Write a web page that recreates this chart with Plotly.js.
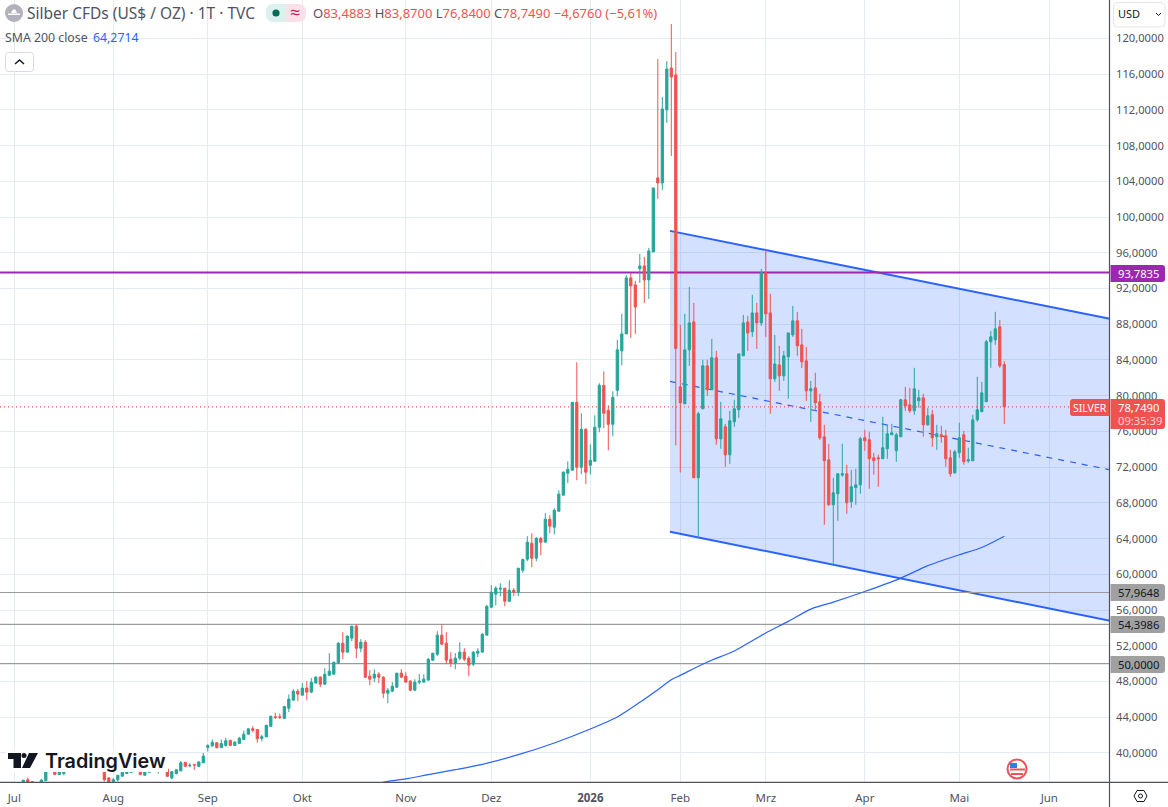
<!DOCTYPE html>
<html><head><meta charset="utf-8">
<script src="https://cdn.plot.ly/plotly-3.0.1.min.js"></script>
<style>html,body{margin:0;padding:0;background:#fff;overflow:hidden}#c{width:1168px;height:807px}</style>
</head><body><div id="c"></div>
<script>
const opens=[36.4,36.5,36.6,37.0,36.8,36.3,36.6,36.9,38.6,38.1,
37.58,37.69,38.5,38.8,38.5,38.9,38.6,38.8,38.1,38.7,
37.85,37.2,36.8,37.0,37.4,37.7,37.83,38.05,38.13,37.5,
37.83,38.05,37.93,37.98,38.2,37.2,37.68,38.0,38.95,38.55,
38.72,38.5,38.9,40.62,40.8,41.15,40.6,40.85,41.4,40.85,
41.05,41.5,42.1,42.72,42.63,41.63,41.8,42.98,44.05,44.05,
43.87,45.02,45.91,46.92,46.47,47.26,46.81,47.82,48.49,47.7,
48.71,48.82,50.05,52.29,51.29,52.85,54.2,51.73,52.4,48.6,
48.38,48.82,48.49,46.7,46.92,47.37,48.94,48.6,48.04,47.03,
47.93,47.93,48.15,50.39,51.06,53.19,52.29,50.5,50.05,50.61,
51.29,50.61,49.94,51.17,51.29,53.19,56.32,57.78,58.34,58.45,
56.99,58.22,58.0,60.46,61.69,63.48,61.81,64.04,63.6,66.17,
65.27,67.06,68.86,71.32,71.65,79.26,71.99,76.24,72.21,72.66,
76.46,81.16,78.37,76.8,80.6,85.02,86.92,93.19,92.4,94.2,
94.53,92.96,96.1,104.38,103.82,112.0,116.69,115.91,80.99,79.09,
85.13,88.26,70.81,78.53,83.34,80.66,84.24,75.17,76.52,73.38,
77.07,78.42,84.46,88.26,87.15,89.27,88.15,93.75,89.27,81.89,
83.45,82.22,84.35,86.81,88.38,85.69,83.9,80.54,80.88,79.31,
75.39,72.82,67.79,69.02,71.11,71.26,68.13,69.7,70.03,75.29,
75.06,73.05,73.05,72.94,74.06,75.62,73.83,75.4,79.54,78.98,
78.31,79.43,79.76,76.74,77.86,75.4,75.62,75.51,73.05,71.37,
73.61,75.62,72.68,72.71,77.3,78.2,79.32,86.03,86.25,87.71,
83.4883];
const highs=[36.7,36.7,37.0,37.23,36.85,36.6,37.1,38.5,38.7,38.2,
38.0,38.3,39,39.1,39,39.1,39,39,38.7,38.9,
38.0,37.3,37.2,37.55,37.9,38.0,38.25,38.2,38.2,38.0,
38.4,38.15,38.13,38.1,38.3,37.95,38.2,39.1,39.0,38.85,
38.72,39.05,40.0,40.95,41.5,41.2,41.5,41.7,41.5,41.35,
41.8,42.5,42.8,43.0,42.65,42.05,43.15,44.2,44.5,44.4,
45.3,46.55,47.15,47.15,47.82,48.04,48.38,48.6,48.6,49.5,
51.17,50.17,52.4,53.52,53.2,54.2,54.42,52.74,52.63,49.27,
49.38,49.05,48.6,47.26,47.93,48.94,49.38,49.05,48.15,48.26,
48.82,48.82,50.61,51.17,53.63,54.42,53.52,51.29,51.17,52.4,
51.73,50.84,51.4,51.73,53.41,56.54,58.78,58.67,59.0,58.45,
59.34,58.45,60.69,61.77,64.27,64.6,64.16,64.16,66.84,66.62,
67.4,69.4,71.54,72.66,79.26,83.74,78.03,76.35,74.56,77.81,
81.39,82.73,78.93,80.49,86.25,89.16,93.52,93.75,92.85,95.88,
95.54,96.55,103.26,117.7,113.44,117.47,121.61,118.48,87.93,89.16,
92.18,90.39,78.19,84.01,84.01,86.36,85.02,79.31,76.85,78.3,
79.54,84.68,89.05,88.94,91.29,90.39,94.2,96.43,91.4,86.81,
85.58,85.02,87.03,90.05,89.38,87.48,85.47,81.66,82.56,80.21,
76.74,74.61,70.81,71.26,74.62,72.27,71.71,71.82,75.4,76.18,
75.96,73.61,73.39,77.64,76.74,76.85,75.85,79.65,80.99,80.88,
83.12,80.66,80.21,78.65,78.42,76.74,76.63,76.18,73.94,73.94,
76.97,76.07,74.17,77.86,82.11,81.55,86.25,87.26,89.39,88.49,
83.87];
const lows=[36.2,36.2,36.5,36.6,36.4,36.1,36.5,36.85,38.05,37.55,
37.55,37.5,38.4,38.4,38.4,38.5,38.4,38.1,38.05,38.05,
36.8,36.7,36.7,36.8,37.4,37.65,37.8,38.0,37.6,37.5,
37.8,37.95,37.7,37.9,37.35,37.05,37.6,37.95,38.5,38.4,
38.1,38.45,38.9,40.15,40.7,40.5,40.6,40.7,40.85,40.85,
41.0,41.45,42.1,42.3,41.15,41.3,41.8,42.95,43.8,43.8,
43.85,44.57,45.9,45.8,46.47,45.91,46.7,47.82,47.37,47.7,
48.6,48.82,50.05,50.5,51.29,52.52,50.61,51.29,48.38,47.59,
47.93,47.82,46.14,45.58,46.81,47.26,48.38,47.93,46.92,46.92,
47.7,47.93,48.15,50.28,50.84,52.07,49.94,49.61,49.38,50.39,
50.28,48.6,49.72,50.73,51.29,53.19,56.21,56.54,57.55,56.43,
56.88,57.55,57.55,60.16,61.47,60.8,61.47,62.14,63.6,64.6,
64.49,67.06,68.86,70.2,71.65,70.53,71.2,70.09,71.2,72.66,
75.9,76.35,73.89,75.46,79.93,83.4,86.92,86.47,86.92,92.63,
90.39,90.84,96.1,102.03,103.04,110.53,106.84,74.43,71.4,79.09,
83.34,70.81,64.13,78.53,79.98,80.66,74.5,74.05,72.04,72.37,
76.52,77.52,84.46,85.02,86.59,85.24,87.82,86.59,77.97,81.55,
80.54,81.66,79.65,86.59,84.46,83.11,79.42,77.07,78.3,75.06,
65.55,67.67,61.0,66.0,70.92,66.78,67.45,67.79,69.02,73.83,
69.58,71.15,69.8,72.94,72.94,75.62,72.6,75.4,78.31,78.09,
77.86,78.65,75.4,76.63,74.28,73.94,74.73,72.04,70.92,71.26,
73.05,72.27,72.49,72.71,77.08,78.2,79.32,83.12,85.7,83.12,
76.84];
const closes=[36.6,36.4,36.95,36.7,36.5,36.5,36.95,38.47,38.1,37.6,
37.95,38.25,38.8,38.5,38.9,38.6,38.8,38.1,38.6,38.1,
37.01,36.75,37.0,37.5,37.83,37.95,38.2,38.15,37.6,37.95,
38.32,37.95,37.98,38.03,37.38,37.9,38.12,38.9,38.5,38.62,
38.65,39.0,39.65,40.85,41.2,40.6,41.05,41.37,40.85,41.2,
41.65,42.1,42.7,42.53,41.6,41.82,43.1,44.1,43.98,43.98,
45.2,46.03,46.92,46.59,47.26,46.81,47.93,48.49,47.7,48.82,
49.16,50.17,52.29,51.29,53.08,54.2,51.73,52.4,48.49,48.26,
48.82,48.49,46.7,47.03,47.48,48.94,48.49,47.93,47.03,47.93,
48.04,48.26,50.5,51.17,53.19,52.18,50.39,50.05,50.61,51.29,
50.5,49.83,51.29,51.4,53.3,56.43,58.0,58.45,58.45,56.99,
58.22,58.0,60.69,61.66,63.6,61.81,64.04,63.6,66.17,65.39,
67.18,68.97,71.43,71.76,79.26,71.99,76.24,71.43,72.77,76.46,
81.16,78.03,76.8,79.82,85.13,86.92,93.19,92.29,89.94,94.53,
92.96,96.21,103.26,103.82,112.1,116.58,115.68,85.28,79.2,85.13,
88.15,70.81,77.97,83.34,80.66,84.24,75.17,77.41,73.38,77.19,
78.53,84.68,88.15,87.03,89.27,88.15,93.75,89.16,81.89,83.56,
82.22,84.46,87.03,88.38,85.58,83.79,80.54,80.77,79.2,75.28,
72.71,67.79,69.13,71.26,71.26,68.01,69.81,70.03,75.18,74.95,
72.94,72.71,72.94,74.17,75.74,75.85,75.62,79.54,78.87,78.31,
80.77,79.76,76.74,77.75,75.29,75.74,75.4,72.94,71.26,73.72,
75.29,72.6,72.83,77.3,78.42,80.32,86.03,86.59,87.49,83.34,
78.749];

const smaBars=[81,83,87,92,98,104,112,120,128,134,139,143,146,148,154,160,167,172,177,182,189,197,203,210,215,220];
const smaValues=[36.6,36.83,37.09,37.58,38.13,38.73,39.81,41.12,42.68,44.03,45.67,47.09,48.2,48.69,50.18,51.42,53.43,54.73,56.11,56.89,58.08,59.58,60.97,62.19,63.01,64.27];

const channelBars=[145.7,243.5];
const channelUpper=[98.45,88.6];
const channelMid=[81.6,71.7];
const channelLower=[64.77,54.8];

const lastPrice=78.749;
const levelPurple=93.7835;
const levelsGray=[57.9648,54.3986,50.0];
const levelLabels=['57,9648','54,3986','50,0000'];
const yTicks=[40,44,48,52,56,60,64,68,72,76,80,84,88,92,96,100,104,108,112,116,120];
const xTickBars=[0,22,43,64,87,106,128,148,167,189,210,230];
const xTickLabels=['Jul','Aug','Sep','Okt','Nov','Dez','<b>2026</b>','Feb','Mrz','Apr','Mai','Jun'];

const W=1110,H=782;
const FONT='"Noto Sans", "Open Sans", sans-serif';
const GRID='#e4ebf2', AXIS='#50535e', UP='#26a69a', DOWN='#ef5350', BLUE='#2962ff', GRAY='#9b9b9b', PURPLE='#9c27b0';
const xRange=[-3.18,243.49], yRange=[36.75,124.3];
const px=x=>x/W, py=y=>1-y/H;
const bars=opens.map((_,i)=>i);
const line=(name,x,y,color,width,dash,yaxis)=>({type:'scatter',mode:'lines',name,x,y,yaxis:yaxis||'y',line:{color,width,dash:dash||'solid'},hoverinfo:'skip',showlegend:false});

const traces=[
  line('lower',channelBars,channelLower,BLUE,2),
  Object.assign(line('upper',channelBars,channelUpper,BLUE,2),{fill:'tonexty',fillcolor:'rgba(41,98,255,0.2)'}),
  line('mid',channelBars,channelMid,BLUE,1.2,'6px,6px'),
  line('purple',xRange,[levelPurple,levelPurple],PURPLE,2),
  ...levelsGray.map((v,i)=>line('g'+i,xRange,[v,v],GRAY,1.2)),
  {type:'candlestick',x:bars,open:opens,high:highs,low:lows,close:closes,yaxis:'y2',whiskerwidth:0,
   increasing:{line:{color:UP,width:1},fillcolor:UP},decreasing:{line:{color:DOWN,width:1},fillcolor:DOWN},hoverinfo:'skip',showlegend:false},
  Object.assign(line('sma',smaBars,smaValues,BLUE,1.2,null,'y2'),{line:{color:BLUE,width:1.2,shape:'spline',smoothing:0.7}}),
  line('last',xRange,[lastPrice,lastPrice],DOWN,1.2,'1px,3px','y2')
];

function rr(x0,y0,x1,y1,rl,rr_){
  const p=(x,y)=>px(x)+','+py(y);
  return 'M'+p(x0+rl,y0)+' L'+p(x1-rr_,y0)+' Q'+p(x1,y0)+' '+p(x1,y0+rr_)+' L'+p(x1,y1-rr_)+' Q'+p(x1,y1)+' '+p(x1-rr_,y1)+' L'+p(x0+rl,y1)+' Q'+p(x0,y1)+' '+p(x0,y1-rl)+' L'+p(x0,y0+rl)+' Q'+p(x0,y0)+' '+p(x0+rl,y0)+' Z';
}
const poly=pts=>'M'+pts.map(q=>px(q[0])+','+py(q[1])).join(' L')+' Z';
const sp=(path,fill,lc,lw)=>({type:'path',xref:'paper',yref:'paper',path,fillcolor:fill||'rgba(0,0,0,0)',line:{color:lc||'rgba(0,0,0,0)',width:lw||0},layer:'above'});
const rect=(x0,y0,x1,y1,fill)=>sp(poly([[x0,y0],[x1,y0],[x1,y1],[x0,y1]]),fill);
const circ=(cx,cy,r,fill,lc,lw)=>({type:'circle',xref:'paper',yref:'paper',x0:px(cx-r),x1:px(cx+r),y0:py(cy+r),y1:py(cy-r),fillcolor:fill,line:{color:lc||'rgba(0,0,0,0)',width:lw||0},layer:'above'});
const seg=(x0,y0,x1,y1,c,w)=>({type:'line',xref:'paper',yref:'paper',x0:px(x0),x1:px(x1),y0:py(y0),y1:py(y1),line:{color:c,width:w},layer:'above'});

const shapes=[
  seg(1109.5,0,1109.5,807,AXIS,1.2),
  seg(0,782.3,1168,782.3,AXIS,1.2),
  rect(6,750,168,772,'#ffffff'),
  sp(poly([[8,753],[21,753],[21,768],[13.5,768],[13.5,759],[8,759]]),'#131722'),
  circ(24,755.6,2.5,'#131722'),
  sp(poly([[29,753],[38,753],[30,768],[22,768]]),'#131722'),
  circ(14,13,9,'#b2b0ba'),
  sp(poly([[8,13.5],[20,13.5],[20,15],[8,15]]),'#ffffff'),
  sp(poly([[11,13],[13,9.5],[15.5,9.5],[17,13]]),'#ffffff'),
  sp(rr(266,4,306,22,8,8),'#fbe0e8'),
  sp(rr(266,4,286,22,8,0),'#dbf1ed'),
  circ(276,13,3.6,'#086b58'),
  sp(rr(5.5,52.5,33.5,71.5,3,3),'#ffffff','#d9dbe1',1),
  sp('M'+px(15)+','+py(64)+' L'+px(19.5)+','+py(60)+' L'+px(24)+','+py(64),null,'#131722',1.5),
  sp(rr(1113.5,2.5,1165,27,4,4),'#ffffff','#e3e5ea',1),
  sp('M'+px(1156)+','+py(13)+' L'+px(1158.5)+','+py(15.5)+' L'+px(1161)+','+py(13),null,'#131722',1),
  sp(rr(1110.5,265,1165,282,0,3),PURPLE),
  sp(rr(1110.5,584,1165,601,0,3),'#a0a0a0'),
  sp(rr(1110.5,616,1165,633,0,3),'#a0a0a0'),
  sp(rr(1110.5,656,1165,673,0,3),'#a0a0a0'),
  sp(rr(1070,399,1109.5,416,3,0),DOWN),
  sp(rr(1110.5,399,1165,429,0,3),DOWN),
  circ(1017,769,9.5,'#ffffff','#f0505a',2),
  sp(poly([[1010,768.5],[1025,768.5],[1025,770.5],[1010,770.5]]),'#f0505a'),
  sp(poly([[1011,773],[1023,773],[1023,775],[1011,775]]),'#f0505a'),
  sp(poly([[1010,763],[1017,763],[1017,768],[1010,768]]),'#2f7fe0'),
  sp(poly([[1134,796],[1137,790.5],[1144,790.5],[1147,796],[1144,801.5],[1137,801.5]]),'#ffffff','#131722',1),
  circ(1140.5,796,2,'#ffffff','#131722',1)
];

const note=(x,y,text,size,color,extra)=>Object.assign({xref:'paper',yref:'paper',x:px(x-2),y:py(y),text,showarrow:false,xanchor:'left',yanchor:'middle',align:'left',font:{family:FONT,size,color}},extra||{});
const R=s=>'<span style="color:'+DOWN+'">'+s+'</span>';
const annotations=[
  note(27,13,'Silber CFDs (US$ / OZ) · 1T · TVC',15.5,'#50535e'),
  note(290,12,'≈',18,'#c2185b'),
  note(313,13,'O'+R('83,4883')+' H'+R('83,8700')+' L'+R('76,8400')+' C'+R('78,7490')+' '+R('−4,6760 (−5,61%)'),13,'#50535e'),
  note(5,38,'SMA 200 close',12.3,'#50535e'),
  note(93,38,'64,2714',12.3,BLUE),
  note(1118,14,'USD',11,'#131722'),
  note(1118,273.5,'93,7835',11.2,'#ffffff'),
  note(1118,592.5,levelLabels[0],11.2,'#131722'),
  note(1118,624.5,levelLabels[1],11.2,'#131722'),
  note(1118,664.5,levelLabels[2],11.2,'#131722'),
  note(1073,407.5,'SILVER',10.5,'#ffffff'),
  note(1118,407.5,'78,7490',11.2,'#ffffff'),
  note(1118,420.5,'09:35:39',11.2,'#fbd0ce'),
  note(45,761,'TradingView',19.8,'#131722',{font:{family:'Inter, sans-serif',size:19.8,color:'#131722',weight:600}})
];

const layout={
  width:1168,height:807,margin:{l:0,r:58,t:0,b:25,pad:0},paper_bgcolor:'#ffffff',plot_bgcolor:'#ffffff',
  separators:',.',showlegend:false,boxgap:0.5,boxgroupgap:0,dragmode:false,hovermode:false,
  font:{family:FONT,size:12,color:AXIS},
  xaxis:{range:xRange,type:'linear',tickmode:'array',tickvals:xTickBars,ticktext:xTickLabels,showgrid:true,gridcolor:GRID,gridwidth:1,zeroline:false,showline:false,ticks:'',tickfont:{family:FONT,size:11.5,color:AXIS},rangeslider:{visible:false},fixedrange:true,tickangle:0,ticklabelstandoff:7},
  yaxis:{range:yRange,side:'right',tickmode:'array',tickvals:yTicks,tickformat:'.4f',showgrid:true,gridcolor:GRID,gridwidth:1,zeroline:false,showline:false,ticks:'',tickfont:{family:FONT,size:11.2,color:AXIS},fixedrange:true,ticklabelstandoff:5},
  yaxis2:{range:yRange,overlaying:'y',side:'right',visible:false,fixedrange:true,showgrid:false,zeroline:false},
  shapes,annotations
};
Plotly.newPlot('c',traces,layout,{displayModeBar:false,staticPlot:true});
</script></body></html>
